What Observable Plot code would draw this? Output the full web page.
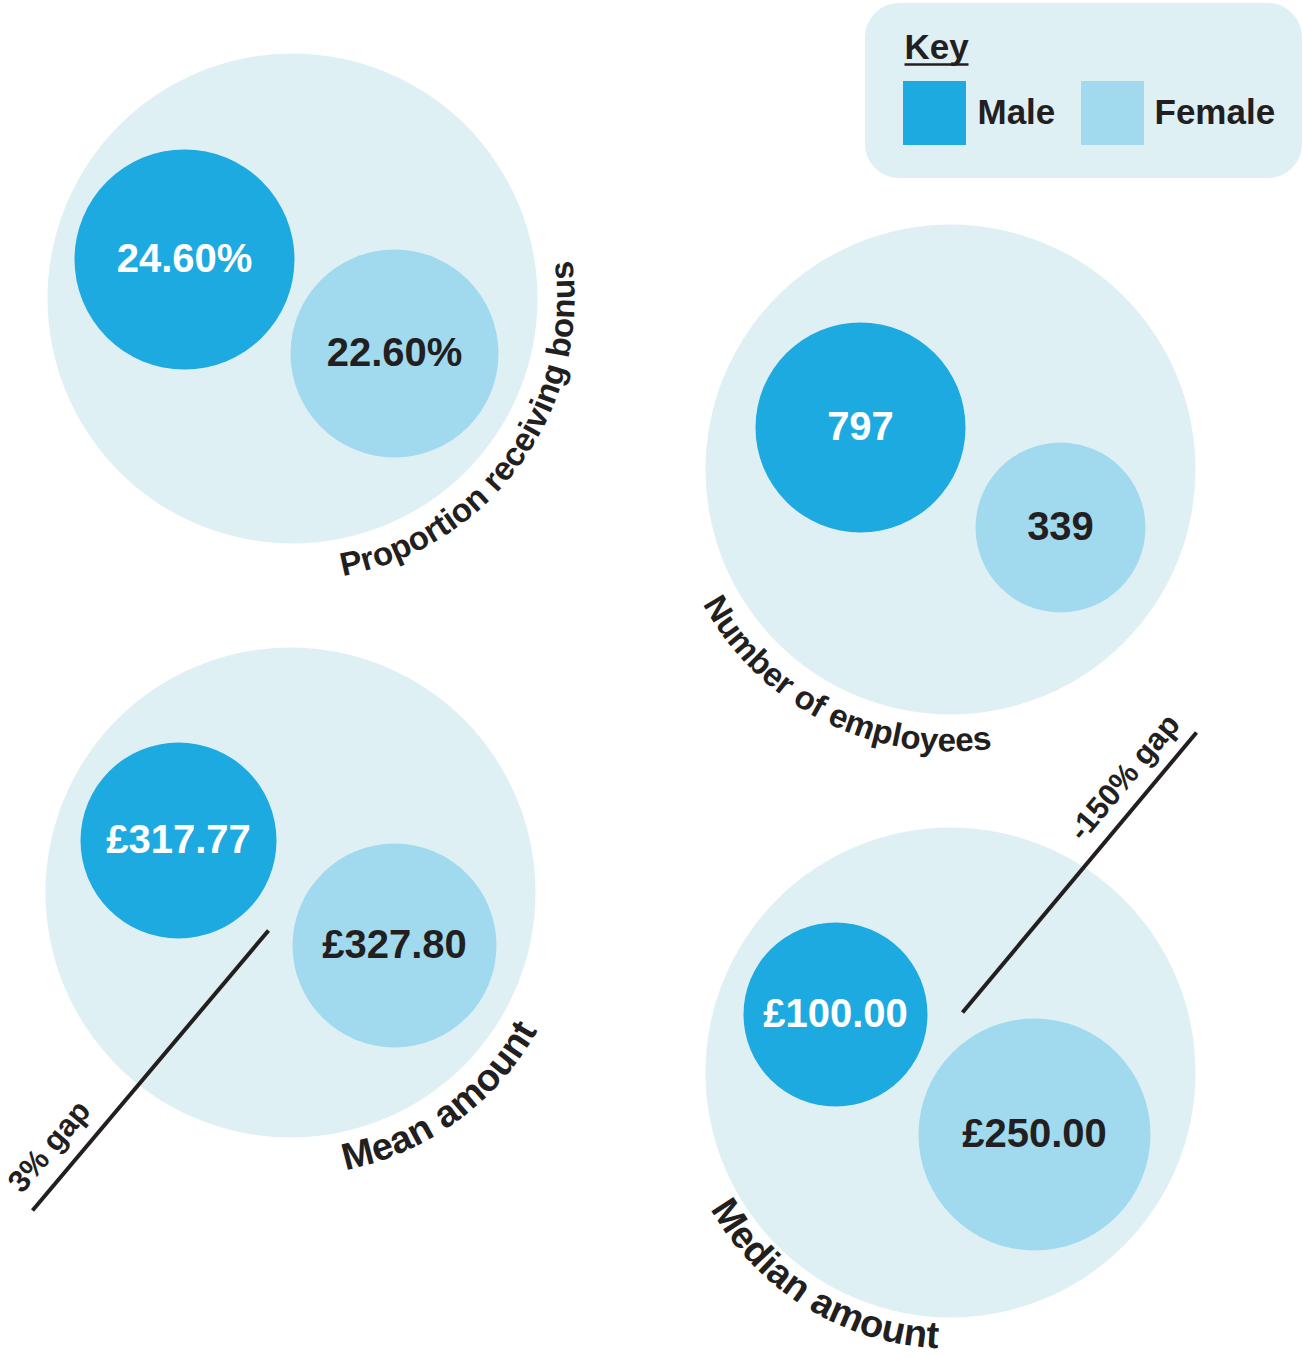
<!DOCTYPE html>
<html>
<head>
<meta charset="utf-8">
<script src="https://cdn.jsdelivr.net/npm/d3@7"></script>
<script src="https://cdn.jsdelivr.net/npm/@observablehq/plot@0.6"></script>
<style>
  html, body { margin: 0; padding: 0; background: #ffffff; }
  #chart svg { display: block; }
</style>
</head>
<body>
<div id="chart"></div>
<script>
// ---------- DATA ----------
const panelTitles = ["Proportion receiving bonus", "Number of employees", "Mean amount", "Median amount"];
const maleValues = ["24.60%", "797", "£317.77", "£100.00"];
const femaleValues = ["22.60%", "339", "£327.80", "£250.00"];
const gapLabels = [null, null, "3% gap", "-150% gap"];
const keyTitle = "Key";
const keyLabels = ["Male", "Female"];

// ---------- LAYOUT (pixel positions / sizes) ----------
const W = 1303, H = 1357;
const FONT = "Liberation Sans";
const colors = {outer: "#dff0f5", male: "#1daae0", female: "#a1daee", ink: "#231f20", white: "#ffffff"};
const outerCenters = [[292, 298], [950, 469], [290, 892], [950, 1072]];
const outerRadius = 245;
const maleCircles = [[184, 259, 110], [860, 427, 105], [178, 840, 98], [835, 1014, 92]];
const femaleCircles = [[394, 353, 104], [1060, 527, 85], [394, 945, 102], [1034, 1134, 116]];
const titleMidAngle = [36, 116.5, 54, 121.5];   // degrees, clockwise from +x
const titleRadius = [282, 282, 283, 276];
const titleFontSize = [33, 33, 38, 38];
const gapLines = [null, null, [268, 930, 32, 1210], [962, 1012, 1196, 732]];
const gapLabelPos = [null, null, [49, 1146], [1124, 777]];
const gapFontSize = 31;
const valueFontSize = 40;
const keyFontSize = 35;
const keyBox = {x1: 865, x2: 1302, y1: 3, y2: 178, r: 34};
const keySwatches = [[903, 966, 81, 145], [1081, 1144, 81, 145]];
const keyTextX = [977, 1154];

// ---------- BUILD ----------
const measure = document.createElement("canvas").getContext("2d");
function arcChars(text, cx, cy, R, midDeg, fontSize) {
  measure.font = `bold ${fontSize}px "${FONT}"`;
  const chars = [...text];
  const widths = chars.map(c => measure.measureText(c).width);
  const total = d3.sum(widths);
  const start = midDeg * Math.PI / 180 + (total / R) / 2;
  let acc = 0;
  return chars.map((c, i) => {
    const a = start - (acc + widths[i] / 2) / R;
    acc += widths[i];
    return {char: c, x: cx + R * Math.cos(a), y: cy + R * Math.sin(a), rotate: a * 180 / Math.PI - 90, fs: fontSize};
  });
}

const outer = outerCenters.map(([x, y]) => ({x, y, r: outerRadius}));
const males = maleCircles.map(([x, y, r], i) => ({x, y, r, label: maleValues[i]}));
const females = femaleCircles.map(([x, y, r], i) => ({x, y, r, label: femaleValues[i]}));
const titleChars = panelTitles.flatMap((t, i) =>
  arcChars(t, outerCenters[i][0], outerCenters[i][1], titleRadius[i], titleMidAngle[i], titleFontSize[i]));
const links = gapLines.map((l, i) => l && {x1: l[0], y1: l[1], x2: l[2], y2: l[3], label: gapLabels[i]}).filter(Boolean);
const gapTexts = gapLabelPos.map((p, i) => {
  if (!p) return null;
  const [x1, y1, x2, y2] = gapLines[i];
  let a = Math.atan2(y2 - y1, x2 - x1) * 180 / Math.PI;
  while (a > 90) a -= 180; while (a < -90) a += 180;
  return {x: p[0], y: p[1], label: gapLabels[i], rotate: a};
}).filter(Boolean);
const swatches = keySwatches.map(([x1, x2, y1, y2], i) => ({x1, x2, y1, y2, fill: i === 0 ? colors.male : colors.female}));
const keyTexts = keyLabels.map((t, i) => ({x: keyTextX[i], y: 112, label: t}));

const plot = Plot.plot({
  width: W, height: H,
  margin: 0,
  x: {type: "identity", axis: null},
  y: {type: "identity", axis: null},
  r: {type: "identity"},
  style: {background: "transparent"},
  marks: [
    // key box
    Plot.rect([keyBox], {x1: "x1", x2: "x2", y1: "y1", y2: "y2", rx: keyBox.r, fill: colors.outer}),
    Plot.rect(swatches, {x1: "x1", x2: "x2", y1: "y1", y2: "y2", fill: d => d.fill}),
    Plot.text([{x: 904, y: 47, label: keyTitle}], {x: "x", y: "y", text: "label", textAnchor: "start",
      fontFamily: FONT, fontWeight: "bold", fontSize: keyFontSize, fill: colors.ink}),
    Plot.link([{x1: 904, x2: 968, y: 64}], {x1: "x1", x2: "x2", y1: "y", y2: "y", stroke: colors.ink, strokeWidth: 2.5}),
    Plot.text(keyTexts, {x: "x", y: "y", text: "label", textAnchor: "start",
      fontFamily: FONT, fontWeight: "bold", fontSize: keyFontSize, fill: colors.ink}),
    // circles
    Plot.dot(outer, {x: "x", y: "y", r: "r", fill: colors.outer, stroke: null}),
    Plot.dot(males, {x: "x", y: "y", r: "r", fill: colors.male, stroke: null}),
    Plot.dot(females, {x: "x", y: "y", r: "r", fill: colors.female, stroke: null}),
    // value labels
    Plot.text(males, {x: "x", y: "y", text: "label", fontFamily: FONT, fontWeight: "bold",
      fontSize: valueFontSize, fill: colors.white}),
    Plot.text(females, {x: "x", y: "y", text: "label", fontFamily: FONT, fontWeight: "bold",
      fontSize: valueFontSize, fill: colors.ink}),
    // gap lines
    Plot.link(links, {x1: "x1", y1: "y1", x2: "x2", y2: "y2", stroke: colors.ink, strokeWidth: 4}),
    Plot.text(gapTexts, {x: "x", y: "y", text: "label", rotate: "rotate", fontFamily: FONT,
      fontWeight: "bold", fontSize: gapFontSize, fill: colors.ink}),
    // curved titles
    ...[33, 38].map(fs => Plot.text(titleChars.filter(d => d.fs === fs), {x: "x", y: "y", text: "char", rotate: "rotate",
      textAnchor: "middle", lineAnchor: "bottom", fontFamily: FONT, fontWeight: "bold", fontSize: fs, fill: colors.ink}))
  ]
});
document.getElementById("chart").appendChild(plot);
</script>
</body>
</html>
